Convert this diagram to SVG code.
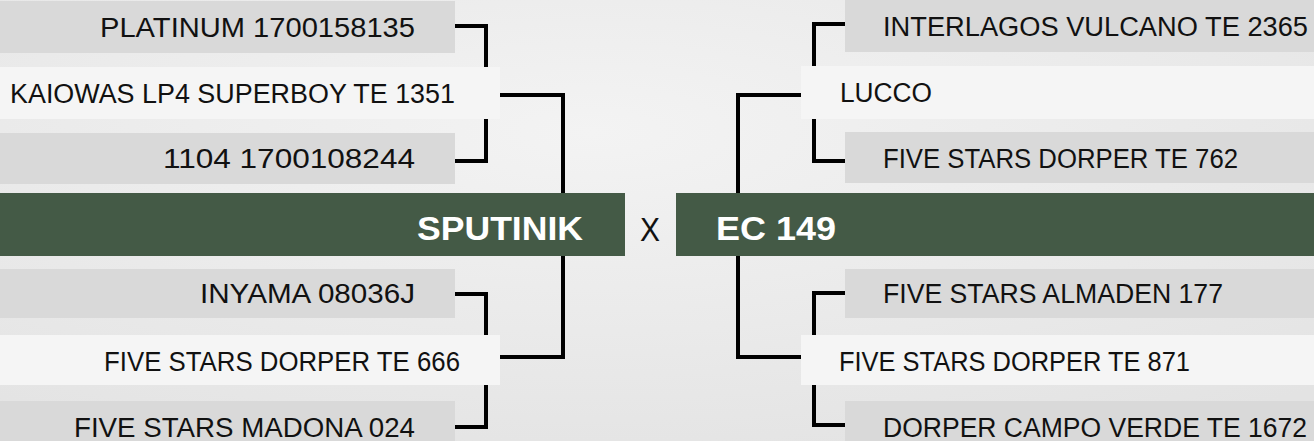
<svg xmlns="http://www.w3.org/2000/svg" width="1314" height="441" viewBox="0 0 1314 441">
<defs>
<radialGradient id="bg" cx="0.45" cy="0.3" r="0.8">
<stop offset="0" stop-color="#f3f3f3"/>
<stop offset="1" stop-color="#e3e3e3"/>
</radialGradient>
</defs>
<style>
.g{fill:#d9d9d9}
.w{fill:#f5f5f5}
.gr{fill:#445a46}
.t{font-family:"Liberation Sans",Arial,sans-serif;font-size:27px;fill:#111}
.b{font-family:"Liberation Sans",Arial,sans-serif;font-size:33px;font-weight:bold;fill:#ffffff}
.x{font-family:"Liberation Sans",Arial,sans-serif;font-size:33px;fill:#111}
.c{fill:none;stroke:#000;stroke-width:4}
</style>
<rect width="1314" height="441" fill="url(#bg)"/>
<g id="connectors">
<path class="c" d="M455,26 H486 V161 H455"/>
<path class="c" d="M500,95 H563 V357 H500"/>
<path class="c" d="M455,294 H486 V427 H455"/>
<path class="c" d="M845,24 H814 V161 H845"/>
<path class="c" d="M801,95 H738 V357 H801"/>
<path class="c" d="M845,293 H814 V425 H845"/>
</g>
<g id="platinum"><rect class="g" x="0" y="1" width="455" height="52"/><text class="t" x="415" y="37" text-anchor="end" textLength="315" lengthAdjust="spacingAndGlyphs">PLATINUM 1700158135</text></g>
<g id="kaiowas"><rect class="w" x="0" y="67" width="500" height="52"/><text class="t" x="455" y="103" text-anchor="end" textLength="445" lengthAdjust="spacingAndGlyphs">KAIOWAS LP4 SUPERBOY TE 1351</text></g>
<g id="n1104"><rect class="g" x="0" y="133" width="455" height="51"/><text class="t" x="415" y="168" text-anchor="end" textLength="252" lengthAdjust="spacingAndGlyphs">1104 1700108244</text></g>
<g id="sputinik"><rect class="gr" x="0" y="193" width="625" height="63"/><text class="b" x="583" y="240" text-anchor="end" textLength="166" lengthAdjust="spacingAndGlyphs">SPUTINIK</text></g>
<g id="x"><text class="x" x="640" y="241" textLength="20" lengthAdjust="spacingAndGlyphs">X</text></g>
<g id="ec149"><rect class="gr" x="676" y="193" width="638" height="63"/><text class="b" x="716" y="240" textLength="120" lengthAdjust="spacingAndGlyphs">EC 149</text></g>
<g id="inyama"><rect class="g" x="0" y="269" width="455" height="49"/><text class="t" x="415" y="303" text-anchor="end" textLength="215" lengthAdjust="spacingAndGlyphs">INYAMA 08036J</text></g>
<g id="fs666"><rect class="w" x="0" y="335" width="500" height="50"/><text class="t" x="460" y="371" text-anchor="end" textLength="356" lengthAdjust="spacingAndGlyphs">FIVE STARS DORPER TE 666</text></g>
<g id="madona"><rect class="g" x="0" y="401" width="455" height="52"/><text class="t" x="415" y="437" text-anchor="end" textLength="341" lengthAdjust="spacingAndGlyphs">FIVE STARS MADONA 024</text></g>
<g id="interlagos"><rect class="g" x="845" y="0" width="469" height="52"/><text class="t" x="883" y="36" textLength="425" lengthAdjust="spacingAndGlyphs">INTERLAGOS VULCANO TE 2365</text></g>
<g id="lucco"><rect class="w" x="801" y="66" width="513" height="53"/><text class="t" x="840" y="102" textLength="92" lengthAdjust="spacingAndGlyphs">LUCCO</text></g>
<g id="fs762"><rect class="g" x="845" y="132" width="469" height="51"/><text class="t" x="883" y="168" textLength="355" lengthAdjust="spacingAndGlyphs">FIVE STARS DORPER TE 762</text></g>
<g id="almaden"><rect class="g" x="845" y="269" width="469" height="49"/><text class="t" x="883" y="303" textLength="340" lengthAdjust="spacingAndGlyphs">FIVE STARS ALMADEN 177</text></g>
<g id="fs871"><rect class="w" x="801" y="335" width="513" height="50"/><text class="t" x="839" y="371" textLength="351" lengthAdjust="spacingAndGlyphs">FIVE STARS DORPER TE 871</text></g>
<g id="campo"><rect class="g" x="845" y="401" width="469" height="52"/><text class="t" x="883" y="437" textLength="424" lengthAdjust="spacingAndGlyphs">DORPER CAMPO VERDE TE 1672</text></g>
</svg>
